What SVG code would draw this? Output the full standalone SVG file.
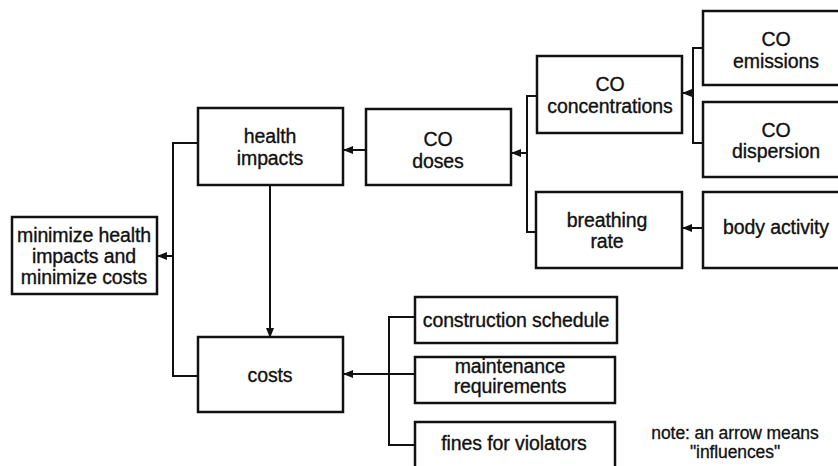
<svg xmlns="http://www.w3.org/2000/svg" width="838" height="466" viewBox="0 0 838 466">
  <defs>
    <marker id="arrow" markerWidth="10" markerHeight="8" refX="9" refY="4" orient="auto" markerUnits="userSpaceOnUse">
      <path d="M0,0 L10,4 L0,8 Z" fill="#111"/>
    </marker>
    <style>
      .box { fill: #fff; stroke: #111; stroke-width: 2.5; }
      .lbl { font-family: "Liberation Sans", Arial, sans-serif; font-size: 19.5px; fill: #111; stroke: #111; stroke-width: 0.35px; text-anchor: middle; letter-spacing: -0.1px; }
      .note { font-family: "Liberation Sans", Arial, sans-serif; font-size: 17.5px; fill: #111; stroke: #111; stroke-width: 0.3px; text-anchor: middle; letter-spacing: -0.1px; }
      .wire { fill: none; stroke: #111; stroke-width: 2; }
    </style>
  </defs>
  <rect width="838" height="466" fill="#fff"/>

  <!-- connectors -->
  <g id="connectors">
    <!-- emissions / dispersion -> concentrations -->
    <path class="wire" d="M703,48 H693 V143 H703"/>
    <path class="wire" d="M693,93 H683" marker-end="url(#arrow)"/>
    <!-- body activity -> breathing rate -->
    <path class="wire" d="M703,228 H683" marker-end="url(#arrow)"/>
    <!-- concentrations / breathing rate -> doses -->
    <path class="wire" d="M537,96 H527 V232 H536"/>
    <path class="wire" d="M527,153 H512" marker-end="url(#arrow)"/>
    <!-- doses -> health impacts -->
    <path class="wire" d="M366,150 H344" marker-end="url(#arrow)"/>
    <!-- health impacts -> costs -->
    <path class="wire" d="M270,185 V337" marker-end="url(#arrow)"/>
    <!-- health impacts / costs -> objective -->
    <path class="wire" d="M198,143 H173 V376 H198"/>
    <path class="wire" d="M173,256 H158" marker-end="url(#arrow)"/>
    <!-- cost factors -> costs -->
    <path class="wire" d="M415,317 H389 V445 H415"/>
    <path class="wire" d="M415,374 H344" marker-end="url(#arrow)"/>
  </g>

  <g id="objective">
    <rect class="box" x="12" y="217" width="145" height="77"/>
    <text class="lbl" x="84" y="242">minimize health</text>
    <text class="lbl" x="84" y="263">impacts and</text>
    <text class="lbl" x="84" y="284">minimize costs</text>
  </g>

  <g id="health-impacts">
    <rect class="box" x="198" y="108" width="145" height="77"/>
    <text class="lbl" x="270" y="143">health</text>
    <text class="lbl" x="270" y="165">impacts</text>
  </g>

  <g id="costs">
    <rect class="box" x="198" y="337" width="145" height="75"/>
    <text class="lbl" x="270" y="382">costs</text>
  </g>

  <g id="co-doses">
    <rect class="box" x="366" y="109" width="145" height="76"/>
    <text class="lbl" x="438" y="146">CO</text>
    <text class="lbl" x="438" y="168">doses</text>
  </g>

  <g id="co-concentrations">
    <rect class="box" x="537" y="56" width="145" height="77"/>
    <text class="lbl" x="610" y="91">CO</text>
    <text class="lbl" x="610" y="113">concentrations</text>
  </g>

  <g id="breathing-rate">
    <rect class="box" x="536" y="192" width="146" height="76"/>
    <text class="lbl" x="607" y="227">breathing</text>
    <text class="lbl" x="607" y="248">rate</text>
  </g>

  <g id="co-emissions">
    <rect class="box" x="703" y="11" width="150" height="74"/>
    <text class="lbl" x="776" y="46">CO</text>
    <text class="lbl" x="776" y="68">emissions</text>
  </g>

  <g id="co-dispersion">
    <rect class="box" x="703" y="102" width="150" height="75"/>
    <text class="lbl" x="776" y="137">CO</text>
    <text class="lbl" x="776" y="158">dispersion</text>
  </g>

  <g id="body-activity">
    <rect class="box" x="703" y="192" width="150" height="76"/>
    <text class="lbl" x="776" y="234">body activity</text>
  </g>

  <g id="construction-schedule">
    <rect class="box" x="415" y="297" width="202" height="46"/>
    <text class="lbl" x="516" y="327">construction schedule</text>
  </g>

  <g id="maintenance-requirements">
    <rect class="box" x="415" y="357" width="200" height="46"/>
    <text class="lbl" x="510" y="373">maintenance</text>
    <text class="lbl" x="510" y="393">requirements</text>
  </g>

  <g id="fines">
    <rect class="box" x="415" y="422" width="200" height="46"/>
    <text class="lbl" x="514" y="450">fines for violators</text>
  </g>

  <g id="note">
    <text class="note" x="735" y="439">note: an arrow means</text>
    <text class="note" x="735" y="458">"influences"</text>
  </g>
</svg>
